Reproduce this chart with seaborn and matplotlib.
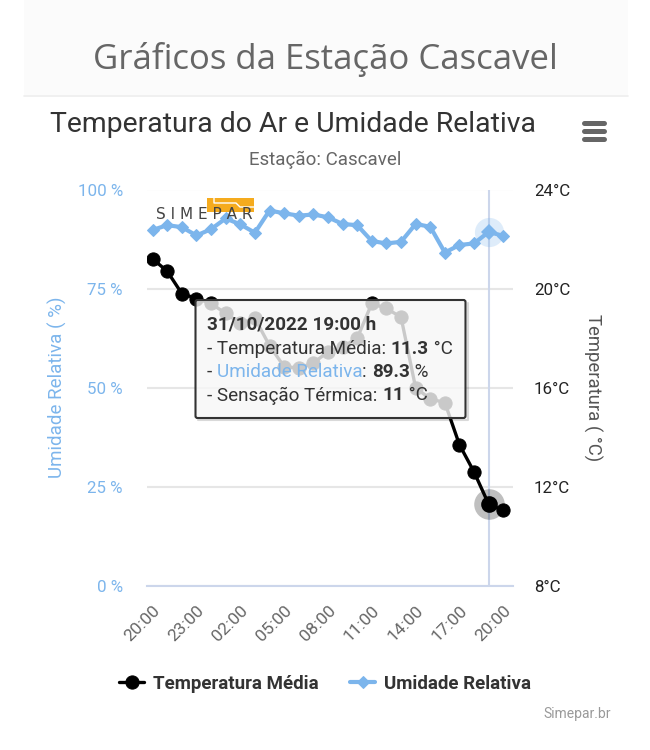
import pandas as pd
import seaborn as sns
import matplotlib.pyplot as plt
from matplotlib.patches import FancyBboxPatch, Rectangle
from matplotlib.transforms import ScaledTranslation

# dados
horas = ["20:00", "21:00", "22:00", "23:00", "00:00", "01:00", "02:00", "03:00", "04:00",
         "05:00", "06:00", "07:00", "08:00", "09:00", "10:00", "11:00", "12:00", "13:00",
         "14:00", "15:00", "16:00", "17:00", "18:00", "19:00", "20:00"]
temperatura = [21.2, 20.7, 19.8, 19.6, 19.4, 19.0, 18.6, 18.8, 17.7, 16.85, 16.8, 17.0, 17.45,
               17.65, 18.0, 19.4, 19.2, 18.85, 16.0, 15.55, 15.4, 13.7, 12.6, 11.3, 11.05]
umidade = [89.8, 91.0, 90.5, 88.4, 90.0, 92.7, 91.2, 89.1, 94.7, 94.0, 93.4, 93.7, 93.0,
           91.3, 91.0, 87.0, 86.4, 86.8, 91.3, 90.6, 84.1, 86.0, 86.4, 89.3, 88.3]
ticks_umidade = [0, 25, 50, 75, 100]
ticks_temperatura = [8, 12, 16, 20, 24]
idx_destaque = 23

AZUL = "#7cb5ec"

sns.set_theme(style="white")
plt.rcParams["font.family"] = ["Roboto", "DejaVu Sans"]

df = pd.DataFrame({"idx": range(len(horas)), "temperatura": temperatura, "umidade": umidade})

fig = plt.figure(figsize=(6.5, 7.5), dpi=100)
W, H = 650, 750
ax = fig.add_axes([146.5 / W, 1 - 586 / H, 366 / W, 396.5 / H])
ax2 = ax.twinx()

# umidade no eixo esquerdo
ax.axvline(idx_destaque, color="#ccd6eb", lw=1.5, zorder=1)
sns.lineplot(data=df, x="idx", y="umidade", ax=ax, color=AZUL, lw=3, marker="D", ms=6.2,
             mec=AZUL, label="Umidade Relativa", legend=False, zorder=3)
ax.plot(idx_destaque, umidade[idx_destaque], "o", ms=21, color=AZUL, alpha=0.25, mew=0, zorder=2)
ax.plot(idx_destaque, umidade[idx_destaque], "D", ms=8.2, color=AZUL, mew=0, zorder=4)
ax.set_xlim(-0.42, 24.63)
ax.set_ylim(0, 100)
ax.set_yticks(ticks_umidade)
ax.set_yticklabels([f"{v} %" for v in ticks_umidade], color=AZUL, fontsize=12.2)
ax.set_xticks(range(0, len(horas), 3))
ax.set_xticklabels(horas[::3], rotation=45, ha="right", rotation_mode="anchor",
                   color="#666666", fontsize=12.5)
desloc = ScaledTranslation(-6.5 / 72, 0, fig.dpi_scale_trans)
for rotulo in ax.get_xticklabels():
    rotulo.set_transform(rotulo.get_transform() + desloc)
ax.tick_params(axis="y", length=0, pad=17)
ax.tick_params(axis="x", length=0, pad=12)
ax.grid(axis="y", color="#e6e6e6", lw=1.5)
ax.set_axisbelow(True)
ax.set_xlabel("")
ax.set_ylabel("Umidade Relativa ( %)", color=AZUL, fontsize=13.5, labelpad=8)
sns.despine(ax=ax, left=True, right=True, top=True)
ax.spines["bottom"].set_color("#ccd6eb")
ax.spines["bottom"].set_linewidth(1.5)

# temperatura no eixo direito
sns.lineplot(data=df, x="idx", y="temperatura", ax=ax2, color="black", lw=2.4, marker="o", ms=9.5,
             mec="black", label="Temperatura Média", legend=False, zorder=3)
ax2.plot(idx_destaque, temperatura[idx_destaque], "o", ms=22, color="black", alpha=0.25, mew=0, zorder=2)
ax2.plot(idx_destaque, temperatura[idx_destaque], "o", ms=12, color="black", mew=0, zorder=4)
ax2.set_ylim(8, 24)
ax2.set_yticks(ticks_temperatura)
ax2.set_yticklabels([f"{v}°C" for v in ticks_temperatura], color="#222222", fontsize=12.2)
ax2.tick_params(axis="y", length=0, pad=15.5)
ax2.grid(False)
ax2.set_ylabel("Temperatura ( °C)", color="#555555", fontsize=13.3, rotation=270, labelpad=23)
sns.despine(ax=ax2, left=True, right=True, top=True, bottom=True)

# legenda
h1, l1 = ax2.get_legend_handles_labels()
h2, l2 = ax.get_legend_handles_labels()
fig.legend(h1 + h2, l1 + l2, ncol=2, frameon=False, loc="center", bbox_to_anchor=(325 / W, 1 - 684 / H),
           prop={"weight": "bold", "size": 13.5}, labelcolor="#333333", handlelength=1.33,
           handletextpad=0.45, columnspacing=1.7)

# camada por cima em pixels: cabecalho, logo, caixa de informacao
ov = fig.add_axes([0, 0, 1, 1], zorder=10)
ov.set_xlim(0, W)
ov.set_ylim(H, 0)
ov.axis("off")
ov.patch.set_alpha(0)

ov.add_patch(Rectangle((24, 0), 604, 95, fc="#fbfbfb", ec="none"))
ov.plot([24, 628], [95.5, 95.5], color="#eeeeee", lw=1.2)
ov.text(325, 59.5, "Gráficos da Estação Cascavel", ha="center", va="center", color="#666666",
        fontsize=25, family="Open Sans")
ov.text(293.5, 125, "Temperatura do Ar e Umidade Relativa", ha="center", va="center",
        color="#333333", fontsize=20.4)
ov.text(325, 160, "Estação: Cascavel", ha="center", va="center", color="#666666", fontsize=13.5)
for y in [122, 130, 138]:
    ov.plot([584, 604], [y + 0.5, y + 0.5], color="#666666", lw=3.6, solid_capstyle="round")

# logo
ov.add_patch(Rectangle((207, 198), 47, 14, fc="#f5ab1e", ec="none"))
ov.plot([214, 214, 236, 240, 254], [198, 203, 203, 207, 207], color="white", lw=1)
ov.text(204, 214.5, "S I M E P A R", ha="center", va="center", color="#444444", fontsize=11,
        family="DejaVu Sans")

# caixa de informacao
ov.plot([198, 468, 468], [420, 420, 303], color="black", alpha=0.15, lw=1.5)
ov.add_patch(FancyBboxPatch((195.5, 300), 270, 118, boxstyle="round,pad=0,rounding_size=2",
                            fc=(0.97, 0.97, 0.97, 0.82), ec="#333333", lw=1.5))


def linha(x, y, partes):
    # escreve pedacos de texto em sequencia na mesma linha
    r = fig.canvas.get_renderer()
    for txt, cor, peso in partes:
        t = ov.text(x, y, txt, color=cor, weight=peso, fontsize=13.6, va="center", ha="left")
        x = ov.transData.inverted().transform(t.get_window_extent(r))[1][0]


linha(207, 324.5, [("31/10/2022 19:00 h", "#333333", "bold")])
linha(207, 348.5, [("- Temperatura Média: ", "#333333", "normal"), ("11.3", "#333333", "bold"),
                   (" °C", "#333333", "normal")])
linha(207, 372, [("- ", "#333333", "normal"), ("Umidade Relativa", AZUL, "normal"),
                 (": ", "#333333", "normal"), ("89.3", "#333333", "bold"), (" %", "#333333", "normal")])
linha(207, 395.5, [("- Sensação Térmica: ", "#333333", "normal"), ("11", "#333333", "bold"),
                   (" °C", "#333333", "normal")])

ov.text(611, 714, "Simepar.br", ha="right", va="center", color="#999999", fontsize=10)

fig.savefig("out.png", dpi=100)
